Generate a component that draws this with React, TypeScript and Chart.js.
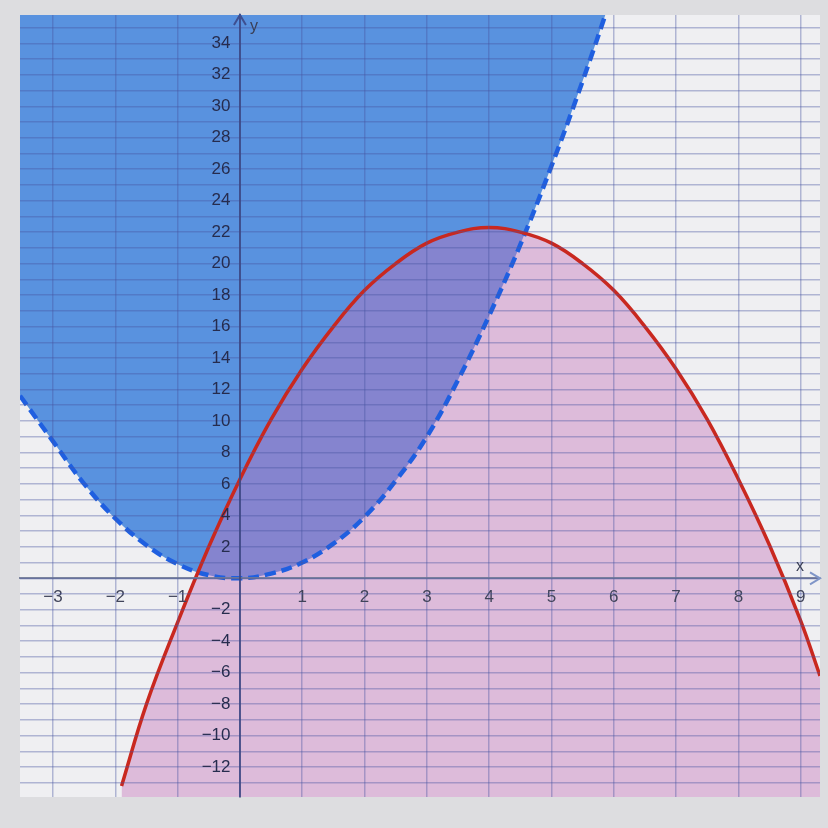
import { useEffect, useRef } from 'react';
import { Chart, registerables } from 'chart.js';

Chart.register(...registerables);

// Red solid parabola (shaded below)
const redX = [-1.9, -1.5, -1, -0.5, 0, 0.5, 1, 1.5, 2, 2.5, 3, 3.5, 4, 4.5, 5, 5.5, 6, 6.5, 7, 7.5, 8, 8.5, 9, 9.31];
const redY = [-13.2, -8.0, -2.8, 2.0, 6.3, 10.1, 13.3, 16.0, 18.3, 20.0, 21.3, 22.0, 22.3, 22.0, 21.3, 20.0, 18.3, 16.0, 13.3, 10.1, 6.3, 2.1, -2.7, -6.2];

// Blue dashed parabola (shaded above)
const blueX = [-3.53, -3, -2.5, -2, -1.5, -1, -0.5, 0, 0.5, 1, 1.5, 2, 2.5, 3, 3.5, 4, 4.5, 5, 5.5, 6, 6.1];
const blueY = [11.6, 8.7, 6.0, 3.8, 2.1, 0.9, 0.2, 0.0, 0.3, 1.0, 2.2, 3.9, 6.2, 9.0, 12.6, 16.7, 21.2, 26.2, 31.6, 37.4, 38.6];

// Tick labels
const xTickLabels = [-3, -2, -1, 1, 2, 3, 4, 5, 6, 7, 8, 9];
const yTickLabels = [-12, -10, -8, -6, -4, -2, 2, 4, 6, 8, 10, 12, 14, 16, 18, 20, 22, 24, 26, 28, 30, 32, 34];

const X_MIN = -3.53;
const X_MAX = 9.31;
const Y_MIN = -13.9;
const Y_MAX = 35.8;

const fmt = (v: number) => (v < 0 ? '\u2212' + Math.abs(v) : String(v));

const decor = {
  id: 'decor',
  beforeDraw(chart: any) {
    const { ctx, chartArea: a } = chart;
    ctx.save();
    ctx.fillStyle = '#dddde0';
    ctx.fillRect(0, 0, chart.width, chart.height);
    ctx.fillStyle = '#efeff2';
    ctx.fillRect(a.left, a.top, a.right - a.left, a.bottom - a.top);
    ctx.restore();
  },
  afterDraw(chart: any) {
    const { ctx, chartArea: a, scales } = chart;
    const x0 = scales.x.getPixelForValue(0);
    const y0 = scales.y.getPixelForValue(0);
    ctx.save();
    ctx.lineWidth = 2;
    ctx.strokeStyle = '#7f95c8';
    ctx.beginPath();
    ctx.moveTo(a.right - 10, y0 - 6);
    ctx.lineTo(a.right, y0);
    ctx.lineTo(a.right - 10, y0 + 6);
    ctx.stroke();
    ctx.strokeStyle = '#3e4f90';
    ctx.beginPath();
    ctx.moveTo(x0 - 6, a.top + 10);
    ctx.lineTo(x0, a.top);
    ctx.lineTo(x0 + 6, a.top + 10);
    ctx.stroke();
    ctx.fillStyle = '#3a3f55';
    ctx.font = '16px "Liberation Sans", Arial, sans-serif';
    ctx.textAlign = 'center';
    ctx.textBaseline = 'middle';
    ctx.fillText('x', a.right - 20, y0 - 12);
    ctx.fillText('y', x0 + 14, a.top + 12);
    ctx.restore();
  },
};

export default function App() {
  const ref = useRef<HTMLCanvasElement | null>(null);
  useEffect(() => {
    if (!ref.current) return;
    const chart = new Chart(ref.current, {
      type: 'line',
      data: {
        datasets: [
          {
            label: 'red',
            data: redX.map((x, i) => ({ x, y: redY[i] })),
            borderColor: '#c9281f',
            borderWidth: 3.5,
            backgroundColor: 'rgba(195,115,185,0.42)',
            fill: 'start',
            pointRadius: 0,
            tension: 0.4,
          },
          {
            label: 'blue',
            data: blueX.map((x, i) => ({ x, y: blueY[i] })),
            borderColor: '#1f5fe0',
            borderWidth: 4.5,
            borderDash: [11, 6],
            backgroundColor: 'rgba(30,110,215,0.72)',
            fill: 'end',
            pointRadius: 0,
            tension: 0.4,
          },
        ],
      },
      options: {
        responsive: false,
        animation: false,
        layout: { padding: { left: 20, top: 15, right: 8, bottom: 31 } },
        plugins: {
          legend: { display: false },
          tooltip: { enabled: false },
          filler: { drawTime: 'beforeDatasetsDraw' },
        },
        scales: {
          x: {
            type: 'linear',
            position: { y: 0 },
            min: X_MIN,
            max: X_MAX,
            grid: { z: 1, color: 'rgba(70,85,160,0.38)', lineWidth: 1.5, drawTicks: false },
            border: { z: 1, display: true, color: 'rgba(110,120,150,0.9)', width: 2 },
            ticks: {
              z: 1,
              stepSize: 1,
              includeBounds: false,
              padding: 9,
              maxRotation: 0,
              autoSkip: false,
              color: '#40445a',
              font: { family: '"Liberation Sans", Arial, sans-serif', size: 17 },
              callback: (v: any) => (xTickLabels.includes(Number(v)) ? fmt(Number(v)) : ''),
            },
          },
          y: {
            type: 'linear',
            position: { x: 0 },
            min: Y_MIN,
            max: Y_MAX,
            grid: { z: 1, color: 'rgba(70,85,160,0.38)', lineWidth: 1.5, drawTicks: false },
            border: { z: 1, display: true, color: 'rgba(60,70,130,0.85)', width: 2 },
            ticks: {
              z: 1,
              stepSize: 1,
              includeBounds: false,
              autoSkip: false,
              color: '#262c4e',
              font: { family: '"Liberation Sans", Arial, sans-serif', size: 17 },
              callback: (v: any) => (yTickLabels.includes(Number(v)) ? fmt(Number(v)) + '  ' : ''),
            },
          },
        },
      },
      plugins: [decor],
    } as any);
    return () => chart.destroy();
  }, []);
  return (
    <div style={{ position: 'fixed', left: 0, top: 0, width: 828, height: 828 }}>
      <canvas ref={ref} width={828} height={828} />
    </div>
  );
}
